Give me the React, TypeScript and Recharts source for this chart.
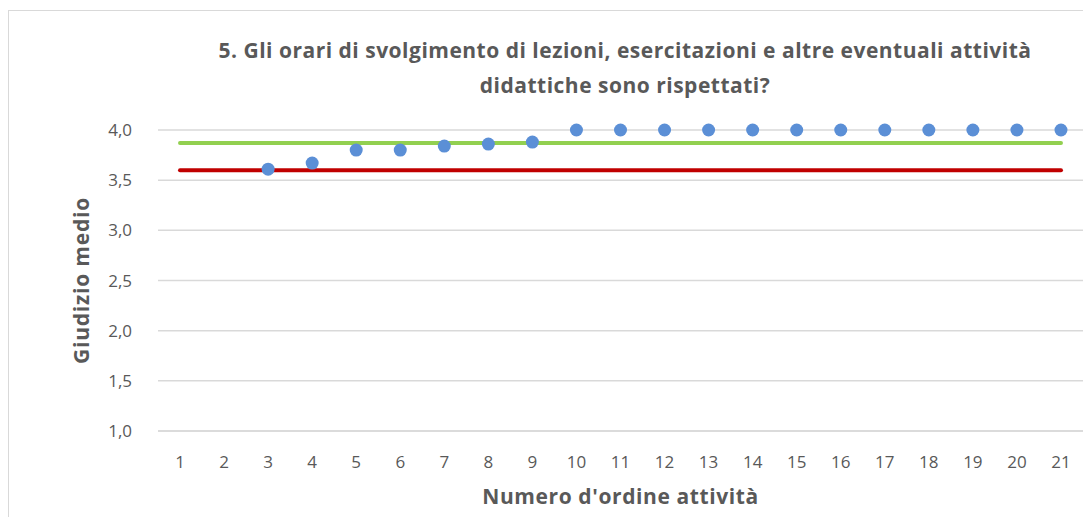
import React from "react"
import { ComposedChart, Line, Scatter, XAxis, YAxis, CartesianGrid, Label } from "recharts"

const activities = [3, 4, 5, 6, 7, 8, 9, 10, 11, 12, 13, 14, 15, 16, 17, 18, 19, 20, 21]
const scores = [3.61, 3.67, 3.8, 3.8, 3.84, 3.86, 3.88, 4, 4, 4, 4, 4, 4, 4, 4, 4, 4, 4, 4]
const lineRange = [1, 21]
const greenValue = 3.87
const redValue = 3.6
const xTicks = [1, 2, 3, 4, 5, 6, 7, 8, 9, 10, 11, 12, 13, 14, 15, 16, 17, 18, 19, 20, 21]
const yTicks = [1, 1.5, 2, 2.5, 3, 3.5, 4]

const points = activities.map((x, i) => ({ x, score: scores[i] }))
const greenLine = lineRange.map((x) => ({ x, value: greenValue }))
const redLine = lineRange.map((x) => ({ x, value: redValue }))

const font = "'Open Sans', sans-serif"
const grey = "#595959"

const Dot = (props: any) => <circle cx={props.cx} cy={props.cy} r={6.5} fill="#5b8fd6" />

export default function App() {
  return (
    <div
      style={{
        position: "relative",
        marginTop: 2,
        width: 1100,
        height: 520,
        border: "1px solid #d9d9d9",
        fontFamily: font,
        overflow: "hidden",
      }}
    >
      <div
        style={{
          position: "absolute",
          left: 0,
          width: 1232,
          top: 22,
          textAlign: "center",
          fontWeight: 700,
          fontSize: 21,
          letterSpacing: 0.5,
          lineHeight: "35px",
          color: grey,
        }}
      >
        5. Gli orari di svolgimento di lezioni, esercitazioni e altre eventuali attività
        <br />
        didattiche sono rispettati?
      </div>
      <ComposedChart width={1090} height={506} margin={{ top: 119, right: 16, bottom: 56, left: 79 }}>
        <CartesianGrid vertical={false} stroke="#d9d9d9" strokeWidth={1.5} />
        <XAxis
          type="number"
          dataKey="x"
          domain={[0.5, 21.5]}
          ticks={xTicks}
          interval={0}
          height={30}
          allowDuplicatedCategory={false}
          axisLine={{ stroke: "#d9d9d9", strokeWidth: 1.5 }}
          tickLine={false}
          tick={{ fill: grey, fontSize: 17, fontFamily: font }}
          tickMargin={19}
        >
          <Label
            value="Numero d'ordine attività"
            position="bottom"
            offset={28}
            style={{ fill: grey, fontSize: 21, letterSpacing: 0.6, fontWeight: 700, fontFamily: font }}
          />
        </XAxis>
        <YAxis
          type="number"
          domain={[1, 4]}
          ticks={yTicks}
          interval={0}
          width={70}
          axisLine={false}
          tickLine={false}
          tickFormatter={(v: number) => v.toFixed(1).replace(".", ",")}
          tick={{ fill: grey, fontSize: 17, fontFamily: font }}
          tickMargin={20}
        >
          <Label
            value="Giudizio medio"
            angle={-90}
            position="left"
            offset={6}
            style={{ fill: grey, fontSize: 21, letterSpacing: 0.8, fontWeight: 700, fontFamily: font, textAnchor: "middle" }}
          />
        </YAxis>
        <Line
          data={redLine}
          dataKey="value"
          type="linear"
          stroke="#c00000"
          strokeWidth={4}
          strokeLinecap="round"
          dot={false}
          activeDot={false}
          isAnimationActive={false}
        />
        <Line
          data={greenLine}
          dataKey="value"
          type="linear"
          stroke="#92d050"
          strokeWidth={4}
          strokeLinecap="round"
          dot={false}
          activeDot={false}
          isAnimationActive={false}
        />
        <Scatter data={points} dataKey="score" shape={Dot} isAnimationActive={false} />
      </ComposedChart>
    </div>
  )
}
